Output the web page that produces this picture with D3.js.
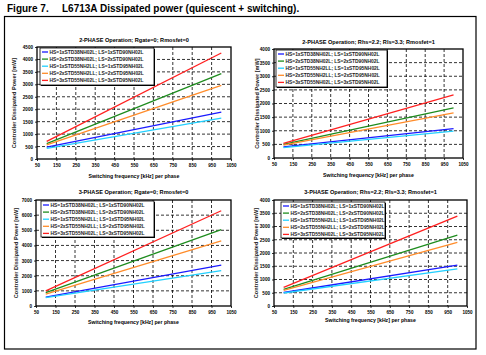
<!DOCTYPE html>
<html><head><meta charset="utf-8">
<script src="https://cdn.jsdelivr.net/npm/d3@7"></script>
<style>
html,body{margin:0;padding:0;background:#fff;}
svg{display:block;font-family:"Liberation Sans",Arial,sans-serif;}
</style></head>
<body>
<svg id="c" width="486" height="355"></svg>
<script>
// ---------- DATA ----------
const figureLabel = "Figure 7.";
const figureTitle = "L6713A Dissipated power (quiescent + switching).";
const xAxisTitle = "Switching frequency [kHz] per phase";
const yAxisTitle = "Controller Dissipated Power [mW]";
const freq = [100, 1000];               // kHz, start and end of each line
const xTicks = [50,150,250,350,450,550,650,750,850,950,1050];
const seriesNames = [
  "HS=1xSTD38NH02L; LS=1xSTD90NH02L",
  "HS=2xSTD38NH02L; LS=2xSTD90NH02L",
  "HS=1xSTD55NH2LL; LS=1xSTD95NH02L",
  "HS=2xSTD55NH2LL; LS=2xSTD95NH02L",
  "HS=3xSTD55NH02L; LS=3xSTD95NH02L"
];
const panelTitles = [
  "2-PHASE Operation; Rgate=0; Rmosfet=0",
  "2-PHASE Operation; Rhs=2.2; Rls=3.3; Rmosfet=1",
  "3-PHASE Operation; Rgate=0; Rmosfet=0",
  "3-PHASE Operation; Rhs=2.2; Rls=3.3; Rmosfet=1"
];
const yTicks2phA = [0,500,1000,1500,2000,2500,3000,3500,4000,4500];
const yTicks2phB = [0,500,1000,1500,2000,2500,3000,3500,4000];
const yTicks3phA = [0,1000,2000,3000,4000,5000,6000,7000];
const yTicks3phB = [0,500,1000,1500,2000,2500,3000,3500,4000];
// values at freq[0], freq[1] for each series (order = seriesNames)
const values2phA = [[480,1880],[620,3430],[430,1640],[570,2960],[710,4260]];
const values2phB = [[410,1080],[500,1840],[380,990],[470,1660],[540,2320]];
const values3phA = [[590,2700],[880,5040],[550,2340],[780,4300],[1000,6290]];
const values3phB = [[510,1540],[630,2670],[490,1400],[590,2400],[700,3390]];

// ---------- STYLE ----------
const colors = ["#1a1aff","#1e8c1e","#22d0ff","#ff8c2a","#ff2020"];
const panels = [
  {title:panelTitles[0], yTicks:yTicks2phA, values:values2phA, x0:37, x1:231, y0:47, y1:159, titleY:40, xlabY:176, ylabX:14, leg:{x:40,y:48,w:114,h:37}},
  {title:panelTitles[1], yTicks:yTicks2phB, values:values2phB, x0:274, x1:463, y0:49, y1:158, titleY:42, xlabY:175, ylabX:257, leg:{x:276,y:50,w:111,h:37}},
  {title:panelTitles[2], yTicks:yTicks3phA, values:values3phA, x0:36, x1:231, y0:200, y1:306, titleY:192, xlabY:322, ylabX:16, leg:{x:41,y:201,w:113,h:36}},
  {title:panelTitles[3], yTicks:yTicks3phB, values:values3phB, x0:274, x1:467, y0:200, y1:306, titleY:192, xlabY:320, ylabX:256, leg:{x:281,y:202,w:104,h:36}}
];

const svg = d3.select("#c");
svg.append("rect").attr("width",486).attr("height",355).attr("fill","#fff");

// figure caption
svg.append("text").attr("x",7).attr("y",11.5).attr("font-size",10).attr("font-weight","bold").text(figureLabel);
svg.append("text").attr("x",62).attr("y",11.5).attr("font-size",10).attr("font-weight","bold").text(figureTitle);
// frame
svg.append("rect").attr("x",4.5).attr("y",16.5).attr("width",471.5).attr("height",332.5)
  .attr("fill","none").attr("stroke","#000").attr("stroke-width",1.2);

panels.forEach(p => {
  const g = svg.append("g");
  const ymax = p.yTicks[p.yTicks.length-1];
  const x = d3.scaleLinear().domain([50,1050]).range([p.x0,p.x1]);
  const y = d3.scaleLinear().domain([0,ymax]).range([p.y1,p.y0]);

  // grid
  const grid = g.append("g").attr("stroke","#000").attr("stroke-width",0.8).attr("stroke-dasharray","3,2");
  xTicks.slice(1,-1).forEach(t => grid.append("line").attr("x1",x(t)).attr("x2",x(t)).attr("y1",p.y0).attr("y2",p.y1));
  p.yTicks.slice(1,-1).forEach(t => grid.append("line").attr("x1",p.x0).attr("x2",p.x1).attr("y1",y(t)).attr("y2",y(t)));

  // axes
  const xa = g.append("g").attr("transform",`translate(0,${p.y1})`)
    .call(d3.axisBottom(x).tickValues(xTicks).tickSize(2).tickPadding(3).tickFormat(d3.format("d")));
  const ya = g.append("g").attr("transform",`translate(${p.x0},0)`)
    .call(d3.axisLeft(y).tickValues(p.yTicks).tickSize(2).tickPadding(2).tickFormat(d3.format("d")));
  [xa,ya].forEach(a => {
    a.select(".domain").remove();
    a.selectAll("line").attr("stroke","#000").attr("stroke-width",0.8);
    a.selectAll("text").attr("font-size",4.6).attr("font-weight","bold").attr("fill","#000")
      .attr("font-family","'Liberation Sans',Arial,sans-serif");
  });

  // series lines
  const line = d3.line().x(d => x(d[0])).y(d => y(d[1]));
  p.values.forEach((v,i) => {
    g.append("path").datum(freq.map((f,j)=>[f,v[j]])).attr("d",line)
      .attr("fill","none").attr("stroke",colors[i]).attr("stroke-width",1.3);
  });

  // plot border
  g.append("rect").attr("x",p.x0).attr("y",p.y0).attr("width",p.x1-p.x0).attr("height",p.y1-p.y0)
    .attr("fill","none").attr("stroke","#000").attr("stroke-width",1.3);

  // legend
  const L = p.leg;
  g.append("rect").attr("x",L.x+1).attr("y",L.y+1).attr("width",L.w).attr("height",L.h).attr("fill","#000");
  g.append("rect").attr("x",L.x).attr("y",L.y).attr("width",L.w).attr("height",L.h)
    .attr("fill","#fff").attr("stroke","#000").attr("stroke-width",0.8);
  seriesNames.forEach((s,i) => {
    const ry = L.y + 4 + i*7.1;
    g.append("line").attr("x1",L.x+2).attr("x2",L.x+8).attr("y1",ry).attr("y2",ry)
      .attr("stroke",colors[i]).attr("stroke-width",1.3);
    g.append("text").attr("x",L.x+9.5).attr("y",ry+1.7).attr("font-size",4.9).attr("font-weight","bold")
      .attr("fill","#222").text(s);
  });

  // titles
  const cx = (p.x0+p.x1)/2;
  g.append("text").attr("x",cx).attr("y",p.titleY+2).attr("text-anchor","middle")
    .attr("font-size",5.6).attr("font-weight","bold").text(p.title);
  g.append("text").attr("x",cx).attr("y",p.xlabY+2).attr("text-anchor","middle")
    .attr("font-size",5.2).attr("font-weight","bold").text(xAxisTitle);
  g.append("text").attr("transform",`translate(${p.ylabX+2},${(p.y0+p.y1)/2}) rotate(-90)`)
    .attr("text-anchor","middle").attr("font-size",5.6).attr("font-weight","bold").attr("fill","#222").text(yAxisTitle);
});
</script>
</body></html>
